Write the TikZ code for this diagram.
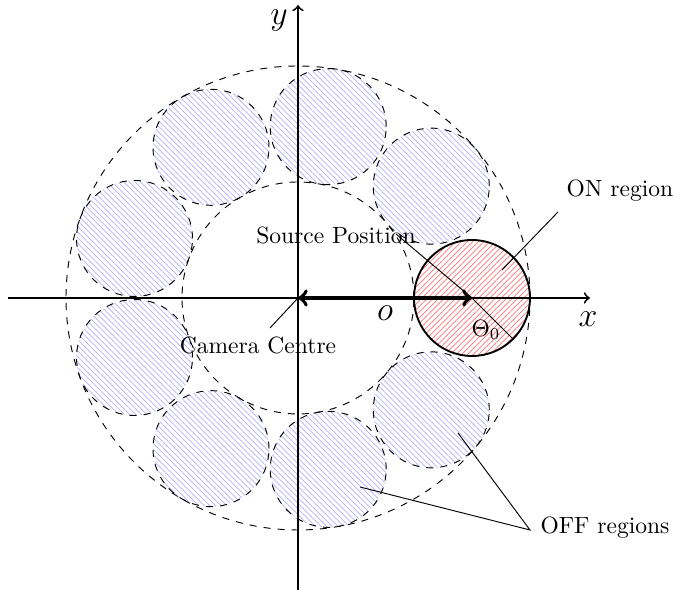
\documentclass[tikz,border=0pt]{standalone}
\usetikzlibrary{patterns.meta,calc}
\begin{document}
\begin{tikzpicture}[x=0.425pt,y=-0.425pt,
  offreg/.style={draw,dashed,pattern={Lines[angle=-45,distance=1.7pt,line width=0.3pt]},pattern color=blue!30},
  onreg/.style={draw,thick,pattern={Lines[angle=45,distance=1.7pt,line width=0.3pt]},pattern color=red!55},
  axis/.style={thick,->},
  ring/.style={dashed},
  lbl/.style={inner sep=1pt},
  pin/.style={thin}]
\useasboundingbox (0,0) rectangle (675,590);
\coordinate (O) at (298,298);
\coordinate (S) at (472,298);
% regions
\draw[ring] (O) circle[radius=98.6pt];
\draw[ring] (O) circle[radius=49.3pt];
\foreach \a in {40,80,...,320}
  \path[offreg] (O) ++(\a:73.95pt) circle[radius=24.65pt];
\draw[onreg] (S) circle[radius=24.65pt];
% axes
\coordinate (xs) at (8,298);  \coordinate (xe) at (590,298);
\coordinate (ys) at (298,590); \coordinate (ye) at (298,5);
\draw[axis] (xs) -- (xe);
\draw[axis] (ys) -- (ye);
\node[font=\Large,inner sep=0pt] (xl) at (588,319) {$x$};
\node[font=\Large,inner sep=0pt] (yl) at (279,21) {$y$};
% source arrow
\draw[ultra thick,<->] (O) -- (S);
\node[font=\Large,inner sep=0pt] (ol) at (385,313) {$o$};
\coordinate (T) at ($(S)+(-45:24.65pt)$);
\draw[pin] (S) -- (T);
\node[lbl] (th) at (486,330) {$\Theta_0$};
% labels
\node[lbl] (sp) at (336,235) {Source Position};
\coordinate (spe) at (396,234);
\draw[pin] (spe) -- (S);
\node[lbl] (cc) at (258,345) {Camera Centre};
\coordinate (cce) at (270,328);
\draw[pin] (cce) -- (O);
\node[lbl] (on) at (620,191) {ON region};
\coordinate (on1) at (558,212);
\coordinate (on2) at (502,270);
\draw[pin] (on1) -- (on2);
\node[lbl] (off) at (605,528) {OFF regions};
\coordinate (offt) at (530,530);
\coordinate (off1) at (458,433);
\coordinate (off2) at (360,487);
\draw[pin] (off1) -- (offt) -- (off2);
\end{tikzpicture}
\end{document}
